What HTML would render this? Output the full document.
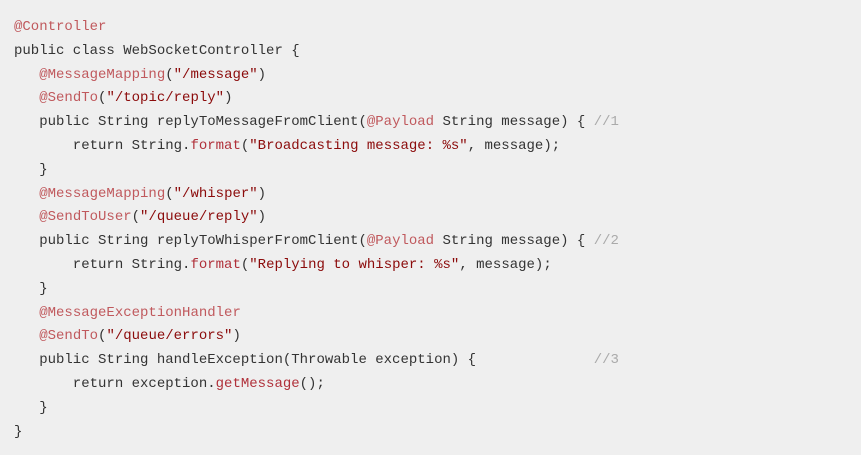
<!DOCTYPE html>
<html><head><meta charset="utf-8"><style>
html,body{margin:0;padding:0;background:#efefef;width:861px;height:455px;overflow:hidden}
pre{margin:0;position:absolute;left:14px;top:16px;font-family:"Liberation Mono",monospace;font-size:14px;line-height:23.8px;color:#333;white-space:pre}
.a{color:#c0595d}.s{color:#8b0a0a}.c{color:#aaa}.f{color:#b0303a}
</style></head><body>
<pre><span class="a">@Controller</span>
public class WebSocketController {
   <span class="a">@MessageMapping</span>(<span class="s">"/message"</span>)
   <span class="a">@SendTo</span>(<span class="s">"/topic/reply"</span>)
   public String replyToMessageFromClient(<span class="a">@Payload</span> String message) { <span class="c">//1</span>
       return String.<span class="f">format</span>(<span class="s">"Broadcasting message: %s"</span>, message);
   }
   <span class="a">@MessageMapping</span>(<span class="s">"/whisper"</span>)
   <span class="a">@SendToUser</span>(<span class="s">"/queue/reply"</span>)
   public String replyToWhisperFromClient(<span class="a">@Payload</span> String message) { <span class="c">//2</span>
       return String.<span class="f">format</span>(<span class="s">"Replying to whisper: %s"</span>, message);
   }
   <span class="a">@MessageExceptionHandler</span>
   <span class="a">@SendTo</span>(<span class="s">"/queue/errors"</span>)
   public String handleException(Throwable exception) {              <span class="c">//3</span>
       return exception.<span class="f">getMessage</span>();
   }
}</pre>
</body></html>
